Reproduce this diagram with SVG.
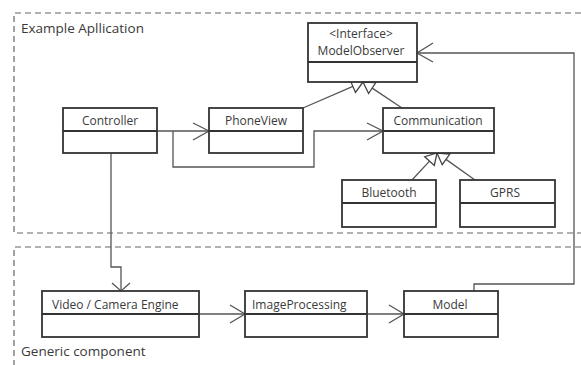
<svg xmlns="http://www.w3.org/2000/svg" width="581" height="365" viewBox="0 0 581 365">
<style>
.bg{fill:#fff}
.region{fill:none;stroke:#666;stroke-width:1.2;stroke-dasharray:6,4}
.box{fill:#fff;stroke:#333;stroke-width:1.8}
.div{stroke:#333;stroke-width:1.8}
.lbl{font-family:"Open Sans","Noto Sans",sans-serif;font-size:12px;fill:#3a3a3a;text-anchor:middle}
.lbs{font-family:"Open Sans","Noto Sans",sans-serif;font-size:12px;fill:#3a3a3a}
.title{font-family:"Open Sans","Noto Sans",sans-serif;font-size:13.5px;fill:#3a3a3a}
.conn{fill:none;stroke:#555;stroke-width:1.3}
.tri{fill:#fff;stroke:#444;stroke-width:1.3}
</style>
<rect class="bg" x="0" y="0" width="581" height="365"/>
<g id="regions">
<path class="region" d="M581,13 H14 V233 H581"/>
<text class="title" x="21" y="33">Example Apllication</text>
<path class="region" d="M581,247 H14 V365"/>
<text class="title" x="21" y="356">Generic component</text>
</g>
<g id="connectors">
<polyline class="conn" points="303,108 352.9,86.4"/>
<polygon class="tri" points="363,82 355.5,92.4 350.3,80.4"/>
<polyline class="conn" points="402,108 372.2,88.1"/>
<polygon class="tri" points="363,82 375.8,82.7 368.6,93.5"/>
<polyline class="conn" points="412,180 429.5,161.1"/>
<polygon class="tri" points="437,153 434.3,165.5 424.7,156.7"/>
<polyline class="conn" points="475,180 446,159.4"/>
<polygon class="tri" points="437,153 449.8,154.1 442.2,164.7"/>
<polyline class="conn" points="157,131 209,131"/>
<polyline class="conn" points="193,123 209,131 193,140"/>
<polyline class="conn" points="173,131 173,167 314,167 314,131 383,131"/>
<polyline class="conn" points="367,123 383,131 367,140"/>
<polyline class="conn" points="111,153 111,267 121,267 121,291"/>
<polyline class="conn" points="112,283 121,291 130,283"/>
<polyline class="conn" points="199,314 245,314"/>
<polyline class="conn" points="230,305 245,314 230,323"/>
<polyline class="conn" points="367,314 404,314"/>
<polyline class="conn" points="389,305 404,314 389,323"/>
<polyline class="conn" points="474,291 474,284 574,284 574,53 417,53"/>
<polyline class="conn" points="433,43 417,53 433,62"/>
</g>
<g id="ModelObserver">
<rect class="box" x="308" y="23" width="109" height="59"/>
<line class="div" x1="308" y1="62" x2="417" y2="62"/>
<text class="lbl" x="361" y="38">&lt;Interface&gt;</text>
<text class="lbl" x="361" y="55">ModelObserver</text>
</g>
<g id="Controller">
<rect class="box" x="63" y="108" width="94" height="45"/>
<line class="div" x1="63" y1="131" x2="157" y2="131"/>
<text class="lbl" x="110" y="125">Controller</text>
</g>
<g id="PhoneView">
<rect class="box" x="209" y="108" width="94" height="45"/>
<line class="div" x1="209" y1="131" x2="303" y2="131"/>
<text class="lbl" x="256" y="125">PhoneView</text>
</g>
<g id="Communication">
<rect class="box" x="383" y="108" width="111" height="45"/>
<line class="div" x1="383" y1="131" x2="494" y2="131"/>
<text class="lbl" x="438" y="125">Communication</text>
</g>
<g id="Bluetooth">
<rect class="box" x="342" y="180" width="94" height="47"/>
<line class="div" x1="342" y1="203" x2="436" y2="203"/>
<text class="lbl" x="389" y="197">Bluetooth</text>
</g>
<g id="GPRS">
<rect class="box" x="460" y="180" width="95" height="47"/>
<line class="div" x1="460" y1="203" x2="555" y2="203"/>
<text class="lbl" x="505" y="197">GPRS</text>
</g>
<g id="VideoCameraEngine">
<rect class="box" x="42" y="291" width="157" height="46"/>
<line class="div" x1="42" y1="314" x2="199" y2="314"/>
<text class="lbs" x="52" y="309">Video / Camera Engine</text>
</g>
<g id="ImageProcessing">
<rect class="box" x="245" y="291" width="122" height="46"/>
<line class="div" x1="245" y1="314" x2="367" y2="314"/>
<text class="lbs" x="252" y="309">ImageProcessing</text>
</g>
<g id="Model">
<rect class="box" x="404" y="291" width="94" height="46"/>
<line class="div" x1="404" y1="314" x2="498" y2="314"/>
<text class="lbl" x="450" y="309">Model</text>
</g>
</svg>
